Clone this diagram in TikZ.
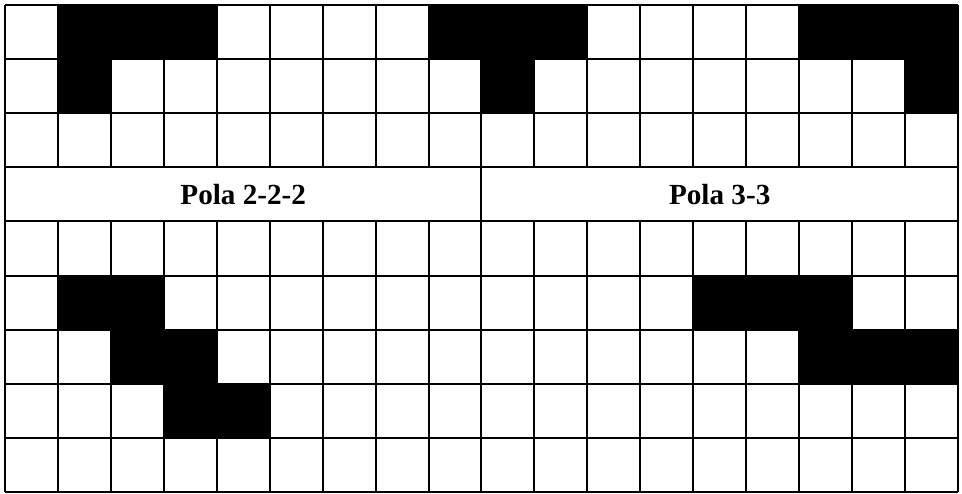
\documentclass[tikz,border=0pt]{standalone}
\usepackage{fontspec}
\setmainfont{Liberation Serif}
\usepackage{tikz}

\tikzset{
  gridline/.style={black, line width=0.04cm},
  polalabel/.style={font=\fontsize{16.6}{19}\selectfont\bfseries, inner sep=0pt}
}

\begin{document}
\begin{tikzpicture}[x=0.02cm, y=-0.02cm]
  \def\cw{52.94} % cell width
  \def\ch{54.11} % cell height

  \useasboundingbox (0,0) rectangle (962,493);

  % Black cells (column/row, counted from the top left)
  \foreach \c/\r in {1/0,2/0,3/0,1/1,
                     8/0,9/0,10/0,9/1,
                     15/0,16/0,17/0,17/1,
                     1/5,2/5,2/6,3/6,3/7,4/7,
                     13/5,14/5,15/5,15/6,16/6,17/6} {
    \fill[black] ({5+\c*\cw},{5+\r*\ch}) rectangle ++(\cw,\ch);
  }

  % Horizontal lines
  \foreach \r in {0,...,9} {
    \draw[gridline] (5,{5+\r*\ch}) -- (958,{5+\r*\ch});
  }
  % Vertical lines (none inside the label row)
  \foreach \c in {0,...,18} {
    \draw[gridline] ({5+\c*\cw},5) -- ({5+\c*\cw},{5+3*\ch});
    \draw[gridline] ({5+\c*\cw},{5+4*\ch}) -- ({5+\c*\cw},{5+9*\ch});
  }
  % Label row: outer sides and middle divider
  \foreach \c in {0,9,18} {
    \draw[gridline] ({5+\c*\cw},{5+3*\ch}) -- ({5+\c*\cw},{5+4*\ch});
  }

  % Labels
  \node[polalabel] (pola222) at ({5+4.5*\cw},{5+3.5*\ch}) {Pola 2-2-2};
  \node[polalabel] (pola33) at ({5+13.5*\cw},{5+3.5*\ch}) {Pola 3-3};
\end{tikzpicture}
\end{document}
